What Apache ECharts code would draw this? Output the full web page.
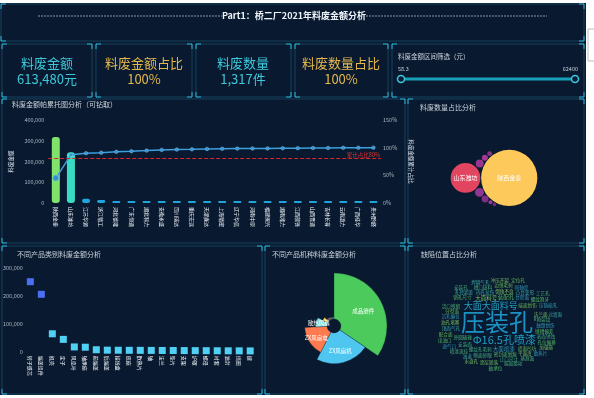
<!DOCTYPE html>
<html><head><meta charset="utf-8">
<script src="https://cdn.jsdelivr.net/npm/echarts/dist/echarts.min.js"></script>
<style>html,body{margin:0;padding:0;background:#fff;}#c{width:594px;height:398px;}</style>
</head><body><div id="c"></div>
<script>
// ---------------- data ----------------
const headerTitle = 'Part1：桥二厂2021年料废金额分析';
const kpiLabels = ['料废金额', '料废金额占比', '料废数量', '料废数量占比'];
const kpiValues = ['613,480元', '100%', '1,317件', '100%'];
const sliderTitle = '料废金额区间筛选（元）';
const sliderRange = ['58.3', '62400'];

const paretoCategories = ['陕西金泰','山东潍坊','江苏华源','浙江精工','河北德隆','广东恒通','湖北科力','安徽永盛','四川瑞达','重庆宏远','天津鑫达','上海精密','辽宁华信','河南中原','福建闽兴','湖南湘力','江西赣锋','山西晋通','吉林长客','云南滇力','广西桂华','贵州黔峰'];
const paretoValues = [318000, 244000, 21000, 14000, 10000, 9000, 8500, 6000, 5000, 4000, 3500, 3000, 2800, 2500, 2200, 2000, 1800, 1500, 1200, 1000, 800, 600];
const paretoCumPct = [45, 87, 90, 91, 92.5, 93.5, 94.7, 96, 96.5, 97, 97.7, 98, 98.3, 98.5, 98.7, 98.9, 99.1, 99.3, 99.5, 99.7, 99.9, 100];
const paretoMarkPct = 80;

const bubbleNames = ['陕西金泰','山东潍坊','江苏华源','浙江精工','河北德隆','广东恒通','湖北科力','安徽永盛','四川瑞达'];
const bubbleValues = [790, 220, 20, 16, 12, 9, 6, 4, 3];

const categoryNames = ['转子铁芯','端盖组件','机壳','定子','风扇叶','轴承座','前端盖','后端盖','接线盒','底座','散热片','轴','法兰','垫片','支架','护罩','螺母','衬套','油封','挡圈','键'];
const categoryValues = [250000, 205000, 64000, 44000, 17000, 16000, 7000, 5500, 5200, 5000, 4800, 4600, 4400, 4200, 4000, 3800, 3600, 3400, 3200, 3000, 2800];

const roseNames = ['成品磨件','ZX风扇机','ZX风扇电','散热风扇','导风罩','端盖','轴套','垫圈','卡簧','螺钉','铭牌','胶圈','衬套'];
const roseValues = [33, 22, 16, 8, 4, 1.9, 1.8, 1.7, 1.6, 1.5, 1.5, 1.4, 1.3];

const wordNames = ['压装孔','Φ16.5孔喷漆','大面大面料号','大面料号','装配孔','螺纹孔毛刺','端面划伤','外圆磕碰','内孔拉伤','倒角不良','台阶面','密封面划痕','安装面','底面凹坑','侧面砂眼','顶面气孔','油孔堵塞','沉孔偏位','销孔尺寸','槽口缺料','边缘毛刺','R角裂纹','凸台变形','法兰面','轴颈划伤','键槽偏差','止口尺寸','分型面','浇口残留','孔径超差','平面度','同轴度','螺纹滑牙','表面锈蚀','涂层脱落','喷漆流挂','焊缝气孔','冲压开裂','压铸缩孔','孔位偏移','端面跳动','配合面','基准面','油道','水道孔','进气口','出油口','安装孔','定位孔','工艺孔','过渡面','加强筋','散热片','轴承位','大面喷漆'];
const wordValues = [100, 40, 28, 16, 14, 13, 12, 12, 11, 11, 10, 10, 10, 9, 9, 9, 9, 8, 8, 8, 8, 8, 8, 7, 7, 7, 7, 7, 7, 7, 7, 6, 6, 6, 6, 6, 6, 6, 6, 6, 6, 6, 6, 6, 6, 6, 6, 6, 6, 6, 6, 6, 6, 6, 15];

// ---------------- helpers ----------------
const FONT = '"Noto Sans CJK SC", "Noto Sans", sans-serif';
const fmt = v => Number(v).toLocaleString('en-US');

function packCircles(radii) {
  const pos = [];
  radii.forEach((r, i) => {
    if (i === 0) { pos.push([0, 0]); return; }
    let sx = 0, sy = 0, sw = 0;
    pos.forEach((p, j) => { const w = radii[j] * radii[j]; sx += p[0] * w; sy += p[1] * w; sw += w; });
    const gx = sx / sw, gy = sy / sw;
    let best = null, bd = Infinity;
    pos.forEach((p, j) => {
      for (let a = 0; a < 360; a += 2) {
        const ang = (180 - a) * Math.PI / 180, d = radii[j] + r + 0.8;
        const x = p[0] + d * Math.cos(ang), y = p[1] + d * Math.sin(ang);
        let ok = true;
        for (let k = 0; k < pos.length; k++) {
          if (Math.hypot(x - pos[k][0], y - pos[k][1]) < radii[k] + r + 0.5) { ok = false; break; }
        }
        if (ok) { const dd = Math.hypot(x - gx, y - gy); if (dd < bd - 1e-6) { bd = dd; best = [x, y]; } }
      }
    });
    pos.push(best);
  });
  return pos;
}

function layoutWords(names, values, cx, cy, sizeOf) {
  const ctx = document.createElement('canvas').getContext('2d');
  const order = names.map((_, i) => i).sort((a, b) => values[b] - values[a]);
  const boxes = [], out = [];
  order.forEach(i => {
    const fs = sizeOf(values[i]);
    ctx.font = fs + 'px ' + FONT;
    const w = ctx.measureText(names[i]).width + 0.5, h = fs * 1.02;
    for (let t = 0; t < 400; t += 0.04) {
      const r = 0.45 * t, a = t + Math.PI / 2;
      const x = cx + r * Math.cos(a) * 1.25, y = cy + r * Math.sin(a) * 0.96;
      const b = [x - w / 2, y - h / 2, x + w / 2, y + h / 2];
      let ok = true;
      for (const q of boxes) {
        if (b[0] < q[2] && b[2] > q[0] && b[1] < q[3] && b[3] > q[1]) { ok = false; break; }
      }
      if (ok) { boxes.push(b); out.push({ i, x, y, fs }); break; }
    }
  });
  return out;
}

// ---------------- derived marks ----------------
const radii = bubbleValues.map(v => Math.sqrt(v));
let bpos = packCircles(radii);
let minX = Infinity, maxX = -Infinity, minY = Infinity, maxY = -Infinity;
bpos.forEach((p, i) => { minX = Math.min(minX, p[0] - radii[i]); maxX = Math.max(maxX, p[0] + radii[i]); minY = Math.min(minY, p[1] - radii[i]); maxY = Math.max(maxY, p[1] + radii[i]); });
const bcx = 494, bcy = 178;
const bubbleColors = ['#fdc95a', '#e2455f', '#8e3690', '#98358f', '#7f2f86', '#a23a93', '#8a318a', '#9a3a90', '#7e2c82'];
const bubbleData = bpos.map((p, i) => ({
  name: bubbleNames[i],
  value: [p[0] - (minX + maxX) / 2 + bcx, p[1] - (minY + maxY) / 2 + bcy, bubbleValues[i]],
  symbolSize: radii[i] * 2,
  itemStyle: { color: bubbleColors[i % bubbleColors.length], opacity: 1 },
  label: { show: i < 2 }
}));

const wordColors = ['#7ed957', '#5fd08a', '#49c7b8', '#8fe06a', '#3fb5d0', '#66d96b', '#52c98f'];
const sizeOf = v => v >= 100 ? 24 : v >= 40 ? 11 : v >= 28 ? 9 : v >= 14 ? 5.5 : 4.6;
const placed = layoutWords(wordNames, wordValues, 497, 322, sizeOf);
const wordData = placed.map((p, k) => ({
  name: wordNames[p.i],
  value: [p.x, p.y, wordValues[p.i]],
  label: {
    fontSize: p.fs,
    color: p.fs >= 20 ? '#1fb2ea' : p.fs >= 9 ? '#27bfe2' : wordColors[k % wordColors.length]
  }
}));

const roseColors = ['#4ccb5c', '#4fc6f0', '#ff7a4f', '#86e0e0', '#f7df5a', '#9a7fe0', '#e8698a', '#5ad0a0', '#f0a050', '#70a0f0', '#c080e0', '#60d0d0', '#d0d060'];

// ---------------- graphics (frame / KPI / slider) ----------------
const G = [];
G.push({ type: 'rect', shape: { x: 0, y: 3, width: 586, height: 392 }, style: { fill: '#0a1a2f' }, silent: true });
function panel(x, y, w, h) {
  G.push({ type: 'rect', shape: { x, y, width: w, height: h }, style: { fill: 'rgba(10,28,50,0.55)', stroke: '#17405e', lineWidth: 1 }, silent: true });
  const L = 5, c = '#2bb8d8';
  [[x, y, 1, 1], [x + w, y, -1, 1], [x, y + h, 1, -1], [x + w, y + h, -1, -1]].forEach(([px, py, sx, sy]) => {
    G.push({ type: 'polyline', shape: { points: [[px + sx * L, py], [px, py], [px, py + sy * L]] }, style: { stroke: c, lineWidth: 1, fill: null }, silent: true });
  });
}
panel(1, 4, 583, 37);
[[2, 44, 90], [96, 44, 96], [196, 44, 95], [295, 44, 93], [392, 44, 192]].forEach(b => panel(b[0], b[1], b[2], 53));
panel(2, 99, 403, 144);
panel(408, 99, 176, 144);
panel(2, 246, 260, 148);
panel(265, 246, 140, 148);
panel(408, 246, 176, 148);

G.push({ type: 'line', shape: { x1: 38, y1: 16, x2: 222, y2: 16 }, style: { stroke: '#8a98a8', lineWidth: 1, lineDash: [2, 1] }, silent: true });
G.push({ type: 'line', shape: { x1: 366, y1: 16, x2: 547, y2: 16 }, style: { stroke: '#8a98a8', lineWidth: 1, lineDash: [2, 1] }, silent: true });
G.push({ type: 'text', x: 294, y: 16, style: { text: headerTitle, fill: '#eef3f8', font: 'bold 9px ' + FONT, textAlign: 'center', textVerticalAlign: 'middle' }, silent: true });

const kpiX = [47, 144, 243, 341];
const kpiColor = ['#3cc9dc', '#e6b84c', '#3cc9dc', '#e6b84c'];
kpiLabels.forEach((t, i) => {
  G.push({ type: 'text', x: kpiX[i], y: 63, style: { text: t, fill: kpiColor[i], font: '13px ' + FONT, textAlign: 'center', textVerticalAlign: 'middle' }, silent: true });
  G.push({ type: 'text', x: kpiX[i], y: 79, style: { text: kpiValues[i], fill: kpiColor[i], font: '13px ' + FONT, textAlign: 'center', textVerticalAlign: 'middle' }, silent: true });
});
G.push({ type: 'text', x: 398, y: 57, style: { text: sliderTitle, fill: '#c8d0da', font: '6.5px ' + FONT, textVerticalAlign: 'middle' }, silent: true });
G.push({ type: 'text', x: 398, y: 69, style: { text: sliderRange[0], fill: '#c8d0da', font: '5.5px ' + FONT, textVerticalAlign: 'middle' }, silent: true });
G.push({ type: 'text', x: 578, y: 69, style: { text: sliderRange[1], fill: '#c8d0da', font: '5.5px ' + FONT, textAlign: 'right', textVerticalAlign: 'middle' }, silent: true });
G.push({ type: 'line', shape: { x1: 401, y1: 79, x2: 575, y2: 79 }, style: { stroke: '#1a9fb8', lineWidth: 3 }, silent: true });
G.push({ type: 'circle', shape: { cx: 401, cy: 79, r: 3.5 }, style: { fill: '#0b1c33', stroke: '#3cc8e0', lineWidth: 1.5 }, silent: true });
G.push({ type: 'circle', shape: { cx: 575, cy: 79, r: 3.5 }, style: { fill: '#0b1c33', stroke: '#3cc8e0', lineWidth: 1.5 }, silent: true });
G.push({ type: 'rect', shape: { x: 588, y: 29, width: 8, height: 32 }, style: { fill: '#fff', stroke: '#bbb', lineWidth: 1 }, silent: true });

// ---------------- option ----------------
const titleStyle = { fontSize: 7, color: '#c9d1da', fontWeight: 'normal', fontFamily: FONT };
const axisLbl = { fontSize: 5.5, color: '#aab4c0', fontFamily: FONT };
const catLbl = { fontSize: 5, color: '#eef2f6', fontFamily: FONT, rotate: -90, interval: 0, margin: 4 };

const option = {
  animation: false,
  textStyle: { fontFamily: FONT },
  graphic: G,
  title: [
    { text: '料废金额帕累托图分析（可钻取）', left: 12, top: 101, padding: 0, textStyle: titleStyle },
    { text: '料废数量占比分析', left: 420, top: 104, padding: 0, textStyle: titleStyle },
    { text: '不同产品类别料废金额分析', left: 17, top: 251, padding: 0, textStyle: titleStyle },
    { text: '不同产品机种料废金额分析', left: 272, top: 251, padding: 0, textStyle: titleStyle },
    { text: '缺陷位置占比分析', left: 421, top: 251, padding: 0, textStyle: titleStyle }
  ],
  grid: [
    { left: 29, top: 120, width: 352, height: 83 },
    { left: 21.7, top: 267.7, width: 234, height: 84 },
    { left: 0, top: 0, width: 594, height: 398 }
  ],
  xAxis: [
    { gridIndex: 0, type: 'category', data: paretoCategories, axisLine: { show: false }, axisTick: { show: false }, axisLabel: catLbl },
    { gridIndex: 1, type: 'category', data: categoryNames, axisLine: { show: false }, axisTick: { show: false }, axisLabel: catLbl },
    { gridIndex: 2, type: 'value', min: 0, max: 594, show: false }
  ],
  yAxis: [
    { gridIndex: 0, type: 'value', min: 0, max: 400000, interval: 100000, splitLine: { show: false }, axisLabel: Object.assign({ formatter: fmt, margin: 4 }, axisLbl),
      name: '料废金额', nameLocation: 'middle', nameGap: 21, nameTextStyle: { fontSize: 5.5, color: '#dfe6ee' } },
    { gridIndex: 0, type: 'value', position: 'right', min: 0, max: 150, interval: 50, splitLine: { show: false }, axisLabel: Object.assign({ formatter: '{value}%', margin: 2 }, axisLbl),
      name: '料废金额累计占比', nameLocation: 'middle', nameGap: 17, nameRotate: -90, nameTextStyle: { fontSize: 5.5, color: '#dfe6ee' } },
    { gridIndex: 1, type: 'value', min: 0, max: 300000, interval: 100000, splitLine: { show: false }, axisLabel: Object.assign({ formatter: fmt, margin: 2 }, axisLbl) },
    { gridIndex: 2, type: 'value', min: 0, max: 398, inverse: true, show: false }
  ],
  series: [
    {
      type: 'bar', xAxisIndex: 0, yAxisIndex: 0, data: paretoValues, barWidth: 8, barMinHeight: 2,
      itemStyle: { borderRadius: 3, color: p => p.dataIndex === 0 ? '#80e36c' : p.dataIndex === 1 ? '#38dcc2' : '#1ea6dc' }
    },
    {
      type: 'line', xAxisIndex: 0, yAxisIndex: 1, data: paretoCumPct, symbol: 'circle',
      symbolSize: (v, p) => p.dataIndex === 0 ? 6 : 3.5,
      lineStyle: { color: '#3d9fdc', width: 1.5 }, itemStyle: { color: '#3790d4', borderColor: '#7cc8f0', borderWidth: 0.5 },
      markLine: {
        silent: true, symbol: 'none', data: [{ yAxis: paretoMarkPct }],
        lineStyle: { color: '#d8262b', type: 'dashed', width: 1 },
        label: { position: 'insideEndTop', formatter: '累计占比' + paretoMarkPct + '%', color: '#e53030', fontSize: 5.5, distance: 1 }
      }
    },
    {
      type: 'scatter', xAxisIndex: 1, yAxisIndex: 2, data: categoryValues, symbol: 'rect', symbolSize: 7,
      itemStyle: { opacity: 1, color: p => p.value > 100000 ? '#4b6ff2' : '#4fd0f4' }
    },
    {
      type: 'pie', center: [334, 326], radius: [7, 53], roseType: 'radius', startAngle: 90, clockwise: true,
      data: roseNames.map((n, i) => ({ name: n, value: roseValues[i], itemStyle: { color: roseColors[i] }, label: { show: i < 4 } })),
      label: { position: 'inside', color: '#fff', fontSize: 5.5 }, labelLine: { show: false },
      itemStyle: { borderColor: '#0a1a2f', borderWidth: 0.3 }
    },
    {
      type: 'scatter', xAxisIndex: 2, yAxisIndex: 3, data: bubbleData,
      label: { position: 'inside', color: '#fff', fontSize: 6, formatter: '{b}' }
    },
    {
      type: 'scatter', xAxisIndex: 2, yAxisIndex: 3, data: wordData, symbolSize: 0,
      label: { show: true, position: 'inside', formatter: '{b}', fontFamily: FONT }
    }
  ]
};
const chart = echarts.init(document.getElementById('c'));
chart.setOption(option);
</script>
</body></html>
